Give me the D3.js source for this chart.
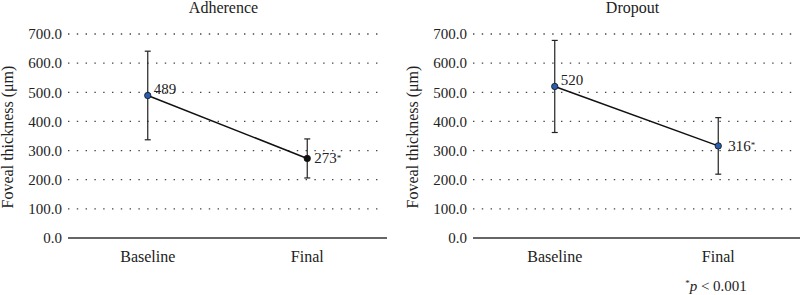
<!DOCTYPE html>
<html>
<head>
<meta charset="utf-8">
<script src="https://d3js.org/d3.v7.min.js"></script>
<style>
  body { margin: 0; background: #fff; }
  svg text { font-family: "Liberation Serif", "DejaVu Serif", serif; fill: #222; }
  .grid line { stroke: #444; stroke-dasharray: 1.4 7.4; stroke-width: 1.3; }
</style>
</head>
<body>
<svg id="chart" width="800" height="295"></svg>
<script>
// data
var categories = ["Baseline", "Final"];
var panelTitles = ["Adherence", "Dropout"];
var adherenceMean = [489, 273];
var adherenceSD = [152, 67];
var dropoutMean = [520, 316];
var dropoutSD = [158, 97];
var valueLabels = [["489", "273"], ["520", "316"]];
var starred = [[false, true], [false, true]];
var yTicks = [0, 100, 200, 300, 400, 500, 600, 700];
var markerFill = [["#2a5db0", "#111"], ["#2a5db0", "#2a5db0"]];

var svg = d3.select("#chart");

var panels = [
  { left: 68, right: 387, title: panelTitles[0], mean: adherenceMean, sd: adherenceSD, idx: 0 },
  { left: 473, right: 800, title: panelTitles[1], mean: dropoutMean, sd: dropoutSD, idx: 1 }
];

var y = d3.scaleLinear().domain([0, 700]).range([238, 34]);

panels.forEach(function(p) {
  var g = svg.append("g");
  var x = d3.scalePoint().domain(categories).range([p.left, p.right]).padding(0.5);

  // dotted gridlines
  g.append("g").attr("class", "grid")
    .selectAll("line")
    .data(yTicks.filter(function(d) { return d > 0; }))
    .enter().append("line")
      .attr("x1", p.left).attr("x2", p.right - 4)
      .attr("y1", function(d) { return y(d); })
      .attr("y2", function(d) { return y(d); });

  // y tick labels
  g.selectAll(".ytick")
    .data(yTicks)
    .enter().append("text")
      .attr("x", p.left - 6)
      .attr("y", function(d) { return y(d); })
      .attr("dy", "0.35em")
      .attr("text-anchor", "end")
      .style("font-size", "15px")
      .text(function(d) { return d3.format(".1f")(d); });

  // x axis baseline
  g.append("line")
    .attr("x1", p.left).attr("x2", p.right)
    .attr("y1", y(0)).attr("y2", y(0))
    .attr("stroke", "#333").attr("stroke-width", 1.5);

  // category labels
  g.selectAll(".xlab")
    .data(categories)
    .enter().append("text")
      .attr("x", function(d) { return x(d); })
      .attr("y", 262)
      .attr("text-anchor", "middle")
      .style("font-size", "16px")
      .text(function(d) { return d; });

  // title
  g.append("text")
    .attr("x", (p.left + p.right) / 2 - 4)
    .attr("y", 13)
    .attr("text-anchor", "middle")
    .style("font-size", "16px")
    .text(p.title);

  // y axis title
  g.append("text")
    .attr("transform", "translate(" + (p.left - 55) + "," + 137 + ") rotate(-90)")
    .attr("text-anchor", "middle")
    .style("font-size", "16px")
    .text("Foveal thickness (μm)");

  var pts = categories.map(function(c, i) { return { c: c, m: p.mean[i], s: p.sd[i], i: i }; });

  // error bars
  pts.forEach(function(d) {
    var cx = x(d.c);
    g.append("line").attr("x1", cx).attr("x2", cx)
      .attr("y1", y(d.m + d.s)).attr("y2", y(d.m - d.s))
      .attr("stroke", "#222").attr("stroke-width", 1.2);
    [d.m + d.s, d.m - d.s].forEach(function(v) {
      g.append("line").attr("x1", cx - 3).attr("x2", cx + 3)
        .attr("y1", y(v)).attr("y2", y(v))
        .attr("stroke", "#222").attr("stroke-width", 1.2);
    });
  });

  // line
  g.append("path")
    .datum(pts)
    .attr("d", d3.line().x(function(d) { return x(d.c); }).y(function(d) { return y(d.m); }))
    .attr("fill", "none").attr("stroke", "#111").attr("stroke-width", 1.5);

  // markers
  g.selectAll(".pt")
    .data(pts)
    .enter().append("circle")
      .attr("cx", function(d) { return x(d.c); })
      .attr("cy", function(d) { return y(d.m); })
      .attr("r", 3.2)
      .attr("fill", function(d) { return markerFill[p.idx][d.i]; })
      .attr("stroke", "#111").attr("stroke-width", 0.8);

  // value labels
  pts.forEach(function(d) {
    var dx = d.i === 0 ? 6 : (p.idx === 1 ? 10 : 7);
    var t = g.append("text")
      .attr("x", x(d.c) + dx)
      .attr("y", y(d.m) + (d.i === 0 ? -1 : 5))
      .style("font-size", "15px");
    t.append("tspan").text(valueLabels[p.idx][d.i]);
    if (starred[p.idx][d.i]) {
      t.append("tspan").attr("dy", "-0.3em").style("font-size", "9px").text("*");
    }
  });
});

// footnote
var fn = svg.append("text")
  .attr("x", 716).attr("y", 289)
  .attr("text-anchor", "middle")
  .style("font-size", "15px");
fn.append("tspan").attr("dy", "-0.3em").style("font-size", "9px").text("*");
fn.append("tspan").attr("dy", "0.3em").style("font-style", "italic").text("p");
fn.append("tspan").text(" < 0.001");
</script>
</body>
</html>
